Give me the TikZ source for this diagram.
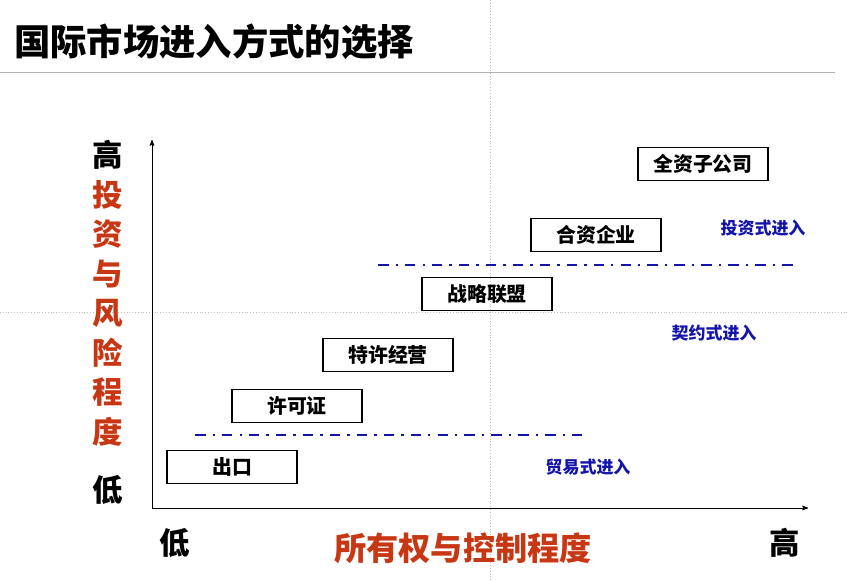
\documentclass[tikz,border=0pt]{standalone}
\usepackage{fontspec}
\setmainfont{Noto Sans CJK SC}
\usetikzlibrary{arrows}
\definecolor{axred}{RGB}{200,55,20}
\definecolor{modeblue}{RGB}{20,20,170}
\begin{document}
\begin{tikzpicture}[x=0.03cm,y=-0.03cm,>=stealth',
  mode node/.style={draw,line width=1.2pt,minimum width=3.9cm,minimum height=1cm,font=\bfseries\fontsize{17}{17}\selectfont},
  kind node/.style={text=modeblue,font=\bfseries\fontsize{14.5}{14.5}\selectfont},
  axis node/.style={font=\bfseries\fontsize{26}{26}\selectfont},
  sep line/.style={modeblue,line width=1.6pt,dash pattern=on 9pt off 6pt on 2pt off 6pt}]
  \useasboundingbox (0,0) rectangle (847,580);
  % slide guides
  \draw[gray!50,dotted] (490,0) -- (490,580);
  \draw[gray!50,dotted] (0,312) -- (847,312);
  % title
  \node[anchor=west,font=\bfseries\fontsize{31}{31}\selectfont] (title) at (10,42) {国际市场进入方式的选择};
  \draw[gray!60,thick] (0,72) -- (835,72);
  % axes
  \coordinate (o) at (152,508);
  \coordinate (ytop) at (152,140);
  \coordinate (xend) at (808,508);
  \draw[->,thick] (o) -- (ytop);
  \draw[->,thick] (o) -- (xend);
  \node[axis node] (yhigh) at (108,155) {高};
  \foreach \ch [count=\i] in {投,资,与,风,险,程,度}
    \node[axis node,text=axred] (y\i) at (108,155+\i*39.5) {\ch};
  \node[axis node] (ylow) at (108,490) {低};
  \node[axis node] (xlow) at (175,543) {低};
  \node[axis node,text=axred,font=\bfseries\fontsize{27.5}{27.5}\selectfont] (xname) at (463,548) {所有权与控制程度};
  \node[axis node] (xhigh) at (785,543) {高};
  % entry modes
  \node[mode node] (export) at (232,467) {出口};
  \node[mode node] (licence) at (297,406) {许可证};
  \node[mode node] (franchise) at (388,355) {特许经营};
  \node[mode node] (alliance) at (487,294) {战略联盟};
  \node[mode node] (joint) at (596,235) {合资企业};
  \node[mode node] (owned) at (703,164) {全资子公司};
  % separators
  \coordinate (s1a) at (195,435); \coordinate (s1b) at (582,435);
  \coordinate (s2a) at (378,265); \coordinate (s2b) at (797,265);
  \draw[sep line] (s1a) -- (s1b);
  \draw[sep line] (s2a) -- (s2b);
  \node[kind node] (invest) at (763,228) {投资式进入};
  \node[kind node] (contract) at (714,333) {契约式进入};
  \node[kind node] (trade) at (588,467) {贸易式进入};
\end{tikzpicture}
\end{document}
